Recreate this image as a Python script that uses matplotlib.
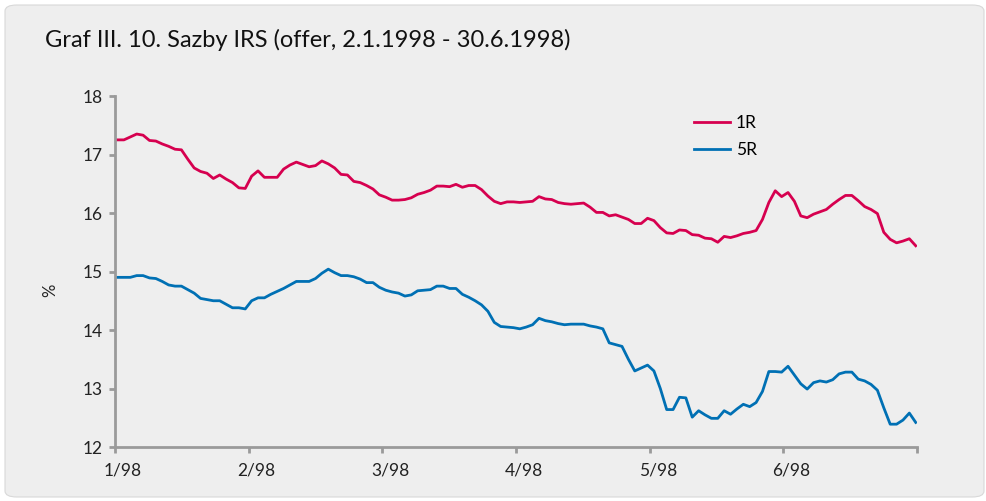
import numpy as np
import matplotlib
matplotlib.use("Agg")
import matplotlib.pyplot as plt
import matplotlib.transforms as mtransforms
from matplotlib.patches import FancyBboxPatch

plt.rcParams["font.family"] = ["Lato", "DejaVu Sans"]

# daily offer rates, 2.1.1998 - 30.6.1998
r1 = [17.25, 17.25, 17.30, 17.35, 17.33, 17.24, 17.23, 17.18, 17.14, 17.09, 17.08, 16.92, 16.77, 16.71, 16.68, 16.59,
      16.65, 16.58, 16.52, 16.43, 16.42, 16.63, 16.72, 16.61, 16.61, 16.61, 16.75, 16.82, 16.87, 16.83, 16.79, 16.81,
      16.89, 16.84, 16.77, 16.66, 16.65, 16.54, 16.52, 16.47, 16.41, 16.31, 16.27, 16.22, 16.22, 16.23, 16.26, 16.32,
      16.35, 16.39, 16.46, 16.46, 16.45, 16.49, 16.44, 16.47, 16.47, 16.40, 16.29, 16.20, 16.16, 16.19, 16.19, 16.18,
      16.19, 16.20, 16.28, 16.24, 16.23, 16.18, 16.16, 16.15, 16.16, 16.17, 16.10, 16.01, 16.01, 15.95, 15.97, 15.93,
      15.89, 15.82, 15.82, 15.91, 15.87, 15.75, 15.66, 15.65, 15.71, 15.70, 15.63, 15.62, 15.57, 15.56, 15.50,
      15.60, 15.58, 15.61, 15.65, 15.67, 15.70, 15.89, 16.18, 16.38, 16.28, 16.35, 16.20, 15.95, 15.92, 15.98, 16.02,
      16.06, 16.15, 16.23, 16.30, 16.30, 16.21, 16.11, 16.06, 15.99, 15.67, 15.55, 15.49, 15.52, 15.56, 15.44]
r5 = [14.90, 14.90, 14.90, 14.93, 14.93, 14.89, 14.88, 14.83, 14.77, 14.75, 14.75, 14.69, 14.63, 14.54, 14.52, 14.50,
      14.50, 14.44, 14.38, 14.38, 14.36, 14.50, 14.55, 14.55, 14.61, 14.66, 14.71, 14.77, 14.83, 14.83, 14.83, 14.88,
      14.97, 15.04, 14.98, 14.93, 14.93, 14.91, 14.87, 14.81, 14.81, 14.73, 14.68, 14.65, 14.63, 14.58, 14.60, 14.67,
      14.68, 14.69, 14.75, 14.75, 14.71, 14.71, 14.61, 14.56, 14.50, 14.43, 14.32, 14.13, 14.06, 14.05, 14.04, 14.02,
      14.05, 14.09, 14.20, 14.16, 14.14, 14.11, 14.09, 14.10, 14.10, 14.10, 14.07, 14.05, 14.02, 13.78, 13.75, 13.72,
      13.50, 13.30, 13.35, 13.40, 13.30, 13.00, 12.64, 12.64, 12.85, 12.84, 12.51, 12.62, 12.55, 12.49, 12.49,
      12.62, 12.56, 12.65, 12.73, 12.69, 12.76, 12.95, 13.29, 13.29, 13.28, 13.38, 13.23, 13.08, 12.99, 13.10, 13.13,
      13.11, 13.15, 13.25, 13.28, 13.28, 13.16, 13.13, 13.07, 12.97, 12.67, 12.39, 12.39, 12.46, 12.58, 12.42]
month_labels = ["1/98", "2/98", "3/98", "4/98", "5/98", "6/98", ""]
series_names = ["1R", "5R"]

bg = "#eeeeee"
grey = "#9a9a9a"
c1 = "#d6004f"
c5 = "#0070b4"

fig = plt.figure(figsize=(9.87, 5.01), dpi=100)
fig.patch.set_facecolor("white")
panel = FancyBboxPatch((5 / 987, 4 / 501), 979 / 987, 492 / 501, boxstyle="round,pad=0,rounding_size=0.012",
                       transform=fig.transFigure, facecolor=bg, edgecolor="#d8d8d8", linewidth=0.8, zorder=-10)
fig.patches.append(panel)

ax = fig.add_axes([115 / 987, 1 - 447 / 501, (917 - 115) / 987, (447 - 96) / 501])
ax.set_facecolor("none")
ax.set_zorder(5)

x = np.arange(len(r1))
ax.plot(x, r1, color=c1, lw=2.0, label=series_names[0], solid_joinstyle="round")
ax.plot(x, r5, color=c5, lw=2.0, label=series_names[1], solid_joinstyle="round")

xmin, xmax = -0.4, 125.2
ax.set_xlim(xmin, xmax)
ax.set_ylim(12, 18)
ax.set_yticks(range(12, 19))
ax.set_xticks(np.linspace(xmin, xmax, len(month_labels)))
ax.set_xticklabels(month_labels)

for s in ["top", "right"]:
    ax.spines[s].set_visible(False)
for s in ["left", "bottom"]:
    ax.spines[s].set_color(grey)
    ax.spines[s].set_linewidth(2.0)
ax.tick_params(axis="both", colors=grey, length=4, width=2.0, direction="out",
               labelsize=12.5, labelcolor="#222222")
ax.tick_params(axis="y", pad=5)
ax.tick_params(axis="x", pad=7)

offset = mtransforms.ScaledTranslation(8 / 100, 0, fig.dpi_scale_trans)
for lab in ax.get_xticklabels():
    lab.set_transform(lab.get_transform() + offset)

fig.text(45 / 987, 1 - 40 / 501, "Graf III. 10. Sazby IRS (offer, 2.1.1998 - 30.6.1998)",
         fontsize=17, color="#111111", va="center", ha="left")
fig.text(50 / 987, 1 - 290 / 501, "%", rotation=90, fontsize=12, color="#222222", va="center", ha="center")

ax.legend(loc="upper left", bbox_to_anchor=((687 - 115) / 802, 1 - (108 - 96) / 351), frameon=False,
          fontsize=12.5, handlelength=2.05, handletextpad=0.35, labelspacing=0.62, borderaxespad=0)

fig.savefig("out.png", dpi=100, facecolor=fig.get_facecolor())
